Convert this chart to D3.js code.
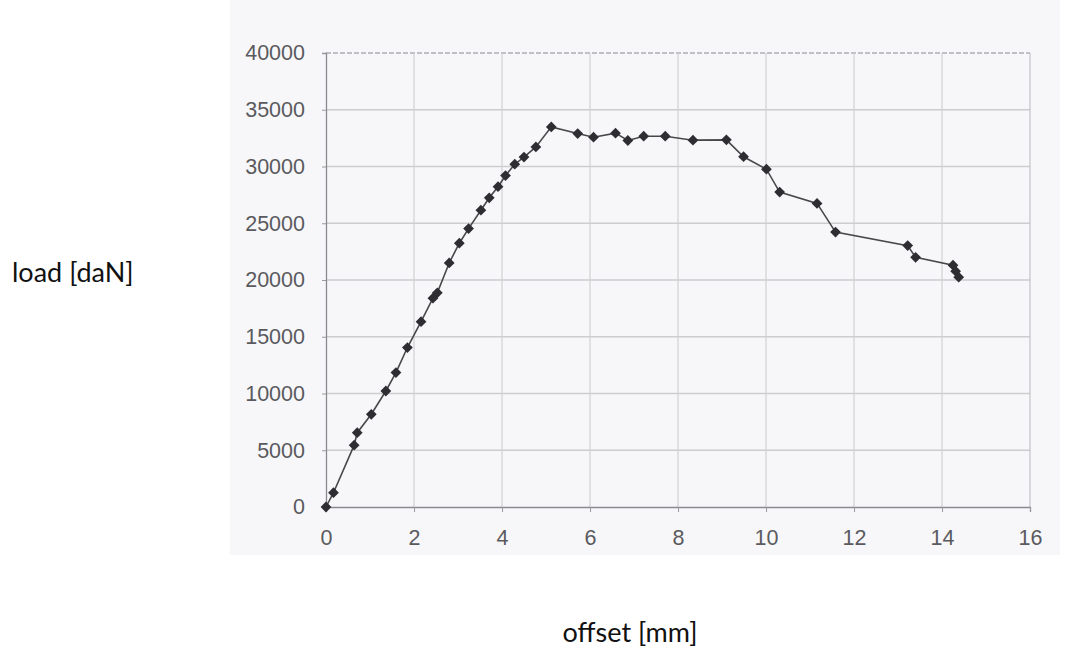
<!DOCTYPE html>
<html>
<head>
<meta charset="utf-8">
<script src="https://cdn.jsdelivr.net/npm/d3@7"></script>
<style>
  html, body { margin: 0; padding: 0; background: #ffffff; }
  svg { display: block; }
</style>
</head>
<body>
<svg id="chart" width="1083" height="649"></svg>
<script>
// ---- data ----
const offsetMm = [0, 0.17, 0.64, 0.71, 1.03, 1.36, 1.59, 1.85, 2.16, 2.43, 2.53, 2.8, 3.03, 3.24, 3.52, 3.71, 3.91, 4.08, 4.29, 4.5, 4.77, 5.12, 5.72, 6.08, 6.58, 6.86, 7.22, 7.71, 8.34, 9.1, 9.49, 10.01, 10.31, 11.16, 11.58, 13.22, 13.4, 14.25, 14.31, 14.38];
const loadDaN = [0, 1260, 5450, 6550, 8170, 10220, 11840, 14050, 16330, 18400, 18870, 21500, 23240, 24530, 26150, 27240, 28220, 29200, 30200, 30830, 31720, 33490, 32900, 32580, 32940, 32290, 32670, 32670, 32320, 32350, 30860, 29760, 27750, 26750, 24220, 23030, 22000, 21310, 20780, 20250];
const xTicks = [0, 2, 4, 6, 8, 10, 12, 14, 16];
const yTicks = [0, 5000, 10000, 15000, 20000, 25000, 30000, 35000, 40000];
const xTitle = "offset [mm]";
const yTitle = "load [daN]";

const svg = d3.select("#chart");

// scanned picture background
svg.append("rect").attr("x", 230).attr("y", 0).attr("width", 830).attr("height", 555)
  .attr("fill", "#f7f7f9");

const x = d3.scaleLinear().domain([0, 16]).range([326, 1030]);
const y = d3.scaleLinear().domain([0, 40000]).range([507, 53]);

// gridlines
const grid = svg.append("g");
grid.selectAll("line.h").data(yTicks.filter(d => d > 0)).join("line")
  .attr("x1", x(0)).attr("x2", x(16))
  .attr("y1", d => y(d)).attr("y2", d => y(d))
  .attr("stroke", d => d === 40000 ? "#b0b0b4" : "#cdcdd0").attr("stroke-width", 1.3)
  .attr("stroke-dasharray", d => d === 40000 ? "5,2" : null);
grid.selectAll("line.v").data(xTicks.filter(d => d > 0)).join("line")
  .attr("x1", d => x(d)).attr("x2", d => x(d))
  .attr("y1", y(0)).attr("y2", y(40000))
  .attr("stroke", d => d === 16 ? "#c4c4c8" : "#d0d0d3").attr("stroke-width", 1.2);

// axes
const xAxis = d3.axisBottom(x).tickValues(xTicks).tickSize(5).tickPadding(18).tickFormat(d3.format("d"));
const yAxis = d3.axisLeft(y).tickValues(yTicks).tickSize(4).tickPadding(17).tickFormat(d3.format("d"));

const gx = svg.append("g").attr("transform", `translate(0,${y(0)})`).call(xAxis);
const gy = svg.append("g").attr("transform", `translate(${x(0)},0)`).call(yAxis);

[gx, gy].forEach(g => {
  g.select(".domain").attr("stroke", "#8a8a8e").attr("stroke-width", 1.3);
  g.selectAll(".tick line").attr("stroke", "#9a9a9e");
  g.selectAll(".tick text")
    .attr("fill", "#5a5a5e")
    .style("font-family", "'Liberation Sans', Arial, sans-serif")
    .style("font-size", "21.5px");
});

// line
const pts = offsetMm.map((v, i) => [v, loadDaN[i]]);
svg.append("path")
  .datum(pts)
  .attr("fill", "none")
  .attr("stroke", "#48484b")
  .attr("stroke-width", 1.6)
  .attr("d", d3.line().x(d => x(d[0])).y(d => y(d[1])));

// diamond markers
const sym = d3.symbol().type(d3.symbolSquare).size(58);
svg.append("g").selectAll("path").data(pts).join("path")
  .attr("d", sym)
  .attr("transform", d => `translate(${x(d[0])},${y(d[1])}) rotate(45)`)
  .attr("fill", "#2e2e32");

// axis titles (outside scanned image)
svg.append("text")
  .attr("x", 12).attr("y", 282)
  .attr("fill", "#111")
  .style("font-family", "Lato, 'Open Sans', sans-serif")
  .style("font-size", "27px")
  .text(yTitle);

svg.append("text")
  .attr("x", 630).attr("y", 642)
  .attr("text-anchor", "middle")
  .attr("fill", "#111")
  .style("font-family", "Lato, 'Open Sans', sans-serif")
  .style("font-size", "27px")
  .text(xTitle);
</script>
</body>
</html>
